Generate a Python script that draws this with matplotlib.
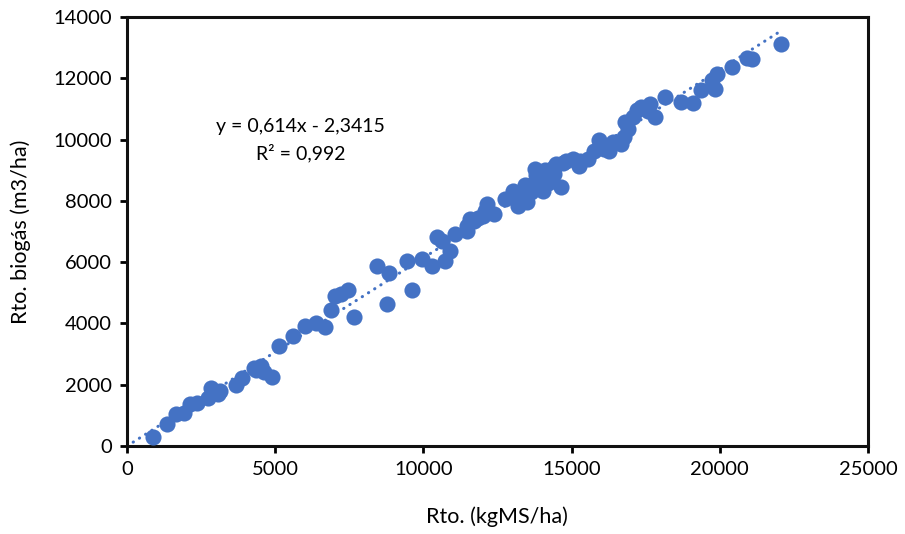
import matplotlib.pyplot as plt
import numpy as np

# Rendimiento (kgMS/ha) vs rendimiento de biogás (m3/ha)
rto_ms = [878, 1351, 1655, 1926, 2128, 2365, 2736, 2838, 3074, 3142,
          3682, 3885, 4358, 4527, 4628, 4899, 5135, 5608, 6013, 6385,
          6689, 6892, 7027, 7230, 7466, 7669, 8446, 8851, 8784, 9459,
          9966, 9628, 10304, 10473, 10642, 10743, 10912, 11081, 11486, 11588,
          11486, 11858, 12095, 12162, 12399, 12770, 13041, 13209, 13277, 13446,
          13649, 13784, 13953, 14054, 14223, 14392, 14493, 14628, 14797, 15034,
          15236, 15540, 15743, 15912, 16250, 16385, 16655, 16757, 16892, 16790,
          17061, 17331, 17568, 17635, 17804, 18142, 18682, 19088, 19358, 19831,
          19899, 20405, 20912, 21081, 22061,
          13150, 13350, 13550, 13700, 13850, 14000, 14150, 14300, 13500, 13800,
          14100, 14400, 14700, 15300, 16100, 17200, 19750, 4300, 11700, 12000]
rto_biogas = [295, 720, 1047, 1080, 1375, 1407, 1571, 1898, 1702, 1800,
              1997, 2226, 2488, 2619, 2422, 2259, 3273, 3600, 3928, 4026,
              3895, 4452, 4910, 4975, 5106, 4222, 5859, 5630, 4648, 6023,
              6088, 5106, 5859, 6808, 6677, 6023, 6350, 6907, 7168, 7398,
              7005, 7430, 7659, 7889, 7561, 8052, 8314, 7823, 8150, 8510,
              8281, 9035, 8707, 8314, 8576, 8871, 9198, 8445, 9296, 9362,
              9133, 9362, 9624, 9984, 9624, 9918, 9853, 10082, 10344, 10573,
              10737, 11064, 10933, 11162, 10737, 11391, 11227, 11195, 11620, 11653,
              12144, 12373, 12668, 12635, 13126,
              8050, 8250, 8350, 8550, 8450, 8600, 8750, 8950, 7950, 8850,
              9000, 9100, 9250, 9300, 9700, 10950, 11950, 2550, 7350, 7500]

# linea de tendencia (Excel)
slope = 0.614
intercept = -2.3415
r2 = 0.992

blue = "#4472C4"
plt.rcParams["font.family"] = ["Lato", "DejaVu Sans"]

fig = plt.figure(figsize=(9.05, 5.34), dpi=100)
ax = fig.add_axes([0.1403, 0.1648, 0.8187, 0.8034])

ax.scatter(rto_ms, rto_biogas, s=135, color=blue, zorder=3, linewidths=0)

xt = np.array([0, max(rto_ms)])
ax.plot(xt, slope * xt + intercept, color=blue, lw=2.2,
        linestyle=(0, (0.1, 2.3)), dash_capstyle="round", zorder=2)

ax.annotate("y = 0,614x - 2,3415\nR² = 0,992", xy=(0.234, 0.713),
            xycoords="axes fraction", ha="center", va="center",
            fontsize=14, linespacing=1.55)

ax.set_xlim(0, 25000)
ax.set_ylim(0, 14000)
ax.set_xticks(np.arange(0, 25001, 5000))
ax.set_yticks(np.arange(0, 14001, 2000))
ax.tick_params(labelsize=14.5, width=2, length=5, direction="out", pad=6)
for sp in ax.spines.values():
    sp.set_linewidth(2.2)
    sp.set_color("#111111")

ax.set_xlabel("Rto. (kgMS/ha)", fontsize=15.5, labelpad=20)
ax.set_ylabel("Rto. biogás (m3/ha)", fontsize=15.5, labelpad=16)

fig.savefig("out.png", dpi=100)
